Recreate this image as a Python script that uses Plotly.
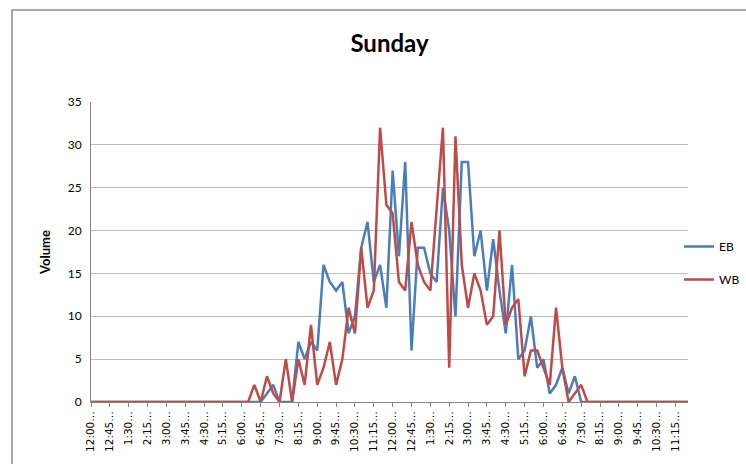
import plotly.graph_objects as go

# 15-minute intervals across the day
times = []
for h in range(24):
    for m in (0, 15, 30, 45):
        hh = h % 12 or 12
        times.append(f"{hh}:{m:02d} {'AM' if h < 12 else 'PM'}")

# Eastbound volume per interval
eb = [
    0, 0, 0, 0, 0, 0, 0, 0, 0, 0, 0, 0, 0, 0, 0, 0, 0, 0, 0, 0, 0, 0, 0, 0,
    0, 0, 0, 0, 1, 2, 0, 0, 0, 7, 5, 7, 6, 16, 14, 13, 14, 8, 10, 18, 21, 14, 16, 11,
    27, 17, 28, 6, 18, 18, 15, 14, 25, 20, 10, 28, 28, 17, 20, 13, 19, 13, 8, 16, 5, 6, 10, 4,
    5, 1, 2, 4, 1, 3, 0, 0, 0, 0, 0, 0, 0, 0, 0, 0, 0, 0, 0, 0, 0, 0, 0, 0,
]

# Westbound volume per interval
wb = [
    0, 0, 0, 0, 0, 0, 0, 0, 0, 0, 0, 0, 0, 0, 0, 0, 0, 0, 0, 0, 0, 0, 0, 0,
    0, 0, 2, 0, 3, 1, 0, 5, 0, 5, 2, 9, 2, 4, 7, 2, 5, 11, 8, 18, 11, 13, 32, 23,
    22, 14, 13, 21, 16, 14, 13, 23, 32, 4, 31, 16, 11, 15, 13, 9, 10, 20, 9, 11, 12, 3, 6, 6,
    4, 2, 11, 4, 0, 1, 2, 0, 0, 0, 0, 0, 0, 0, 0, 0, 0, 0, 0, 0, 0, 0, 0, 0,
]

tick_labels = [
    "12:00…", "12:45…", "1:30…", "2:15…", "3:00…", "3:45…", "4:30…", "5:15…",
    "6:00…", "6:45…", "7:30…", "8:15…", "9:00…", "9:45…", "10:30…", "11:15…",
    "12:00…", "12:45…", "1:30…", "2:15…", "3:00…", "3:45…", "4:30…", "5:15…",
    "6:00…", "6:45…", "7:30…", "8:15…", "9:00…", "9:45…", "10:30…", "11:15…",
]

fig = go.Figure()
fig.add_trace(go.Scatter(x=times, y=eb, mode="lines", name="EB", legendgroup="eb",
                         line=dict(color="#4A7EBB", width=2.5)))
fig.add_trace(go.Scatter(x=times, y=wb, mode="lines", name="WB", legendgroup="wb",
                         line=dict(color="#BE4B48", width=2.5)))

L, R, T, B = 91, 58, 102, 62
pw, ph = 746 - L - R, 464 - T - B

def px_x(px):
    return (px - L) / pw

def px_y(py):
    return (464 - B - py) / ph

fig.update_layout(
    width=746, height=464,
    margin=dict(l=L, r=R, t=T, b=B, autoexpand=False),
    paper_bgcolor="white", plot_bgcolor="white",
    font=dict(family="Lato, sans-serif", size=11, color="#404040"),
    title=dict(text="<b>Sunday</b>", x=0.5, xref="paper", xanchor="center",
               y=1 - 44 / 464, yanchor="middle",
               font=dict(family="Lato, sans-serif", size=24, color="#000000")),
    showlegend=True,
    legend=dict(x=px_x(679), xanchor="left", y=px_y(263), yanchor="middle",
                tracegroupgap=14, itemwidth=30, bgcolor="rgba(0,0,0,0)",
                font=dict(family="Lato, sans-serif", size=12, color="#000000")),
    xaxis=dict(
        type="category", range=[0, 95],
        tickmode="array", tickvals=times[::3], ticktext=tick_labels,
        tickangle=-90, ticks="outside", ticklen=4, tickcolor="#868686",
        showline=True, linecolor="#868686", linewidth=1,
        showgrid=False, zeroline=False,
        tickfont=dict(family="DejaVu Sans, sans-serif", size=10.5, color="#000000"),
    ),
    yaxis=dict(
        range=[0, 35], dtick=5, tick0=0,
        showgrid=True, gridcolor="#BEBEBE", gridwidth=1,
        showline=True, linecolor="#868686", linewidth=1,
        zeroline=False, ticks="", ticklabelstandoff=6,
        tickfont=dict(family="Lato, sans-serif", size=12, color="#000000"),
        title=dict(text="<b>Volume</b>", standoff=14,
                   font=dict(family="Lato, sans-serif", size=13, color="#000000")),
    ),
    shapes=[
        dict(type="rect", xref="paper", yref="paper",
             x0=px_x(12), x1=px_x(770), y0=px_y(490), y1=px_y(10),
             line=dict(color="#8C8C8C", width=1.5), fillcolor="rgba(0,0,0,0)",
             layer="below"),
    ],
)

fig.write_html("out.html")
